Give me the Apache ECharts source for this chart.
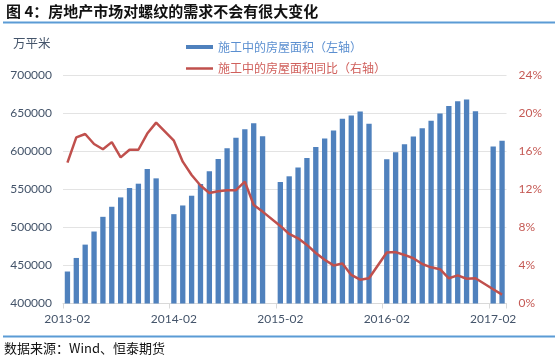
<!DOCTYPE html>
<html>
<head>
<meta charset="utf-8">
<script src="https://cdn.jsdelivr.net/npm/echarts@6/dist/echarts.min.js"></script>
<style>
html,body{margin:0;padding:0;background:#fff;}
#c{width:558px;height:357px;}
</style>
</head>
<body>
<div id="c"></div>
<script>
const categories = [
  '2013-02','2013-03','2013-04','2013-05','2013-06','2013-07','2013-08','2013-09','2013-10','2013-11','2013-12',
  '2014-01','2014-02','2014-03','2014-04','2014-05','2014-06','2014-07','2014-08','2014-09','2014-10','2014-11','2014-12',
  '2015-01','2015-02','2015-03','2015-04','2015-05','2015-06','2015-07','2015-08','2015-09','2015-10','2015-11','2015-12',
  '2016-01','2016-02','2016-03','2016-04','2016-05','2016-06','2016-07','2016-08','2016-09','2016-10','2016-11','2016-12',
  '2017-01','2017-02','2017-03'
];
const areaUnderConstruction = [
  442000,459800,477300,494500,513800,527000,539300,551600,557300,576600,564300,
  null,517300,528700,541500,556900,573600,589800,603900,617500,628900,636800,619700,
  null,559500,567000,578400,591100,605600,616600,627200,642500,646900,652200,635900,
  null,589400,598600,609100,619200,630000,639800,649400,659300,665500,667700,652400,
  null,606200,613600
];
const areaYoY = [
  14.8,17.45,17.8,16.75,16.2,16.95,15.35,16.15,16.15,17.85,19.0,
  null,17.1,14.9,13.5,12.4,11.6,11.8,11.9,11.9,12.8,10.35,9.65,
  null,8.15,7.3,6.85,6.15,5.3,4.6,4.0,4.2,3.0,2.5,2.65,
  null,5.35,5.4,5.1,4.75,4.15,3.8,3.6,2.65,2.95,2.6,2.65,
  null,1.5,0.93
];
const barName = '施工中的房屋面积（左轴）';
const lineName = '施工中的房屋面积同比（右轴）';
const titleText = '图 4：房地产市场对螺纹的需求不会有很大变化';
const sourceText = '数据来源：Wind、恒泰期货';
const unitText = '万平米';

const FONT = "Lato, 'Noto Sans CJK SC', sans-serif";
const chart = echarts.init(document.getElementById('c'), null, {renderer: 'canvas'});
const showEvery12 = function (index) { return index % 12 === 0; };

chart.setOption({
  animation: false,
  backgroundColor: '#ffffff',
  textStyle: {fontFamily: FONT},
  grid: {left: 63, right: 51.5, top: 75, bottom: 53.5, containLabel: false},
  legend: [
    {
      data: [{name: barName, icon: 'rect'}],
      left: 181, top: 36, itemWidth: 27, itemHeight: 4, itemGap: 3,
      textStyle: {color: '#5b8fd0', fontSize: 12, fontFamily: "'Noto Sans CJK SC', sans-serif"}
    },
    {
      data: [{name: lineName, icon: 'rect'}],
      left: 181, top: 57.5, itemWidth: 27, itemHeight: 2.5, itemGap: 3,
      textStyle: {color: '#d0605c', fontSize: 12, fontFamily: "'Noto Sans CJK SC', sans-serif"}
    }
  ],
  xAxis: {
    type: 'category',
    data: categories,
    boundaryGap: true,
    axisLine: {lineStyle: {color: '#d9d9d9', width: 1}},
    axisTick: {show: true, interval: showEvery12, length: 5, lineStyle: {color: '#d9d9d9'}},
    axisLabel: {interval: showEvery12, color: '#44546a', fontSize: 12, margin: 10, fontFamily: FONT},
    splitLine: {show: false}
  },
  yAxis: [
    {
      type: 'value', min: 400000, max: 700000, interval: 50000,
      axisLine: {show: false}, axisTick: {show: false},
      axisLabel: {color: '#44546a', fontSize: 12, margin: 11, fontFamily: FONT,
        formatter: function (v) { return String(v); }},
      splitLine: {lineStyle: {color: '#e3e3e3', width: 1}}
    },
    {
      type: 'value', min: 0, max: 24, interval: 4,
      axisLine: {show: false}, axisTick: {show: false},
      axisLabel: {color: '#c55a55', fontSize: 12, margin: 12, formatter: '{value}%', fontFamily: FONT},
      splitLine: {show: false}
    }
  ],
  series: [
    {
      name: barName, type: 'bar', data: areaUnderConstruction, yAxisIndex: 0,
      barCategoryGap: '40%',
      itemStyle: {color: '#4f81bd'}
    },
    {
      name: lineName, type: 'line', data: areaYoY, yAxisIndex: 1,
      connectNulls: true, showSymbol: false, symbol: 'none',
      lineStyle: {color: '#c0504d', width: 2.5},
      itemStyle: {color: '#c0504d'}
    }
  ],
  graphic: [
    {type: 'text', left: 6, top: 4, style: {text: titleText, fill: '#111', font: "bold 15px 'Noto Sans CJK SC', sans-serif"}},
    {type: 'rect', shape: {x: 3, y: 21.5, width: 552, height: 2}, style: {fill: '#5b9bd5'}},
    {type: 'text', left: 13, top: 37, style: {text: unitText, fill: '#44546a', font: "12.5px 'Noto Sans CJK SC', sans-serif"}},
    {type: 'rect', shape: {x: 3, y: 335.5, width: 552, height: 2}, style: {fill: '#5b9bd5'}},
    {type: 'text', left: 4, top: 342, style: {text: sourceText, fill: '#111', font: "13px 'Noto Sans CJK SC', sans-serif"}}
  ]
});
</script>
</body>
</html>
